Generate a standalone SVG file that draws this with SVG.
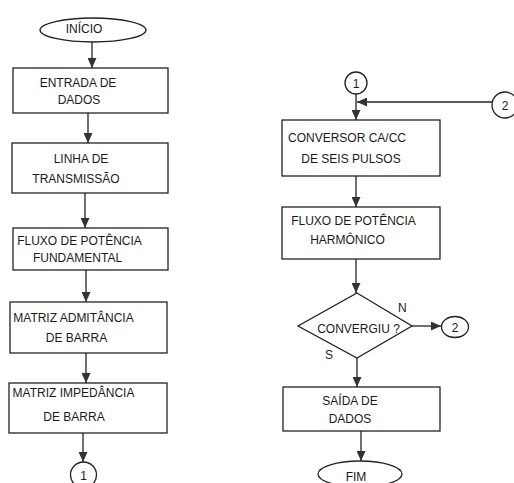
<svg xmlns="http://www.w3.org/2000/svg" width="514" height="483" viewBox="0 0 514 483">
<defs>
<marker id="ah" markerUnits="userSpaceOnUse" markerWidth="10" markerHeight="9" refX="10" refY="4.5" orient="auto">
<path d="M0,0 L10,4.5 L0,9 Z" fill="#333"/>
</marker>
<style>
.s{fill:#fff;stroke:#222;stroke-width:1.3}
.c{fill:none;stroke:#222;stroke-width:1.3}
.t{font-family:"Liberation Sans",Arial,sans-serif;font-size:12px;fill:#1a1a1a}
.m{text-anchor:middle}
</style>
</defs>
<rect width="514" height="483" fill="#fff"/>
<g id="connectors">
<line class="c" x1="92" y1="42" x2="92" y2="68" marker-end="url(#ah)"/>
<line class="c" x1="88" y1="113" x2="88" y2="143" marker-end="url(#ah)"/>
<line class="c" x1="85" y1="193" x2="85" y2="228" marker-end="url(#ah)"/>
<line class="c" x1="86" y1="270" x2="86" y2="302" marker-end="url(#ah)"/>
<line class="c" x1="86" y1="353" x2="86" y2="383" marker-end="url(#ah)"/>
<line class="c" x1="83" y1="433" x2="83" y2="462" marker-end="url(#ah)"/>
<line class="c" x1="356" y1="94" x2="356" y2="120" marker-end="url(#ah)"/>
<line class="c" x1="492" y1="102" x2="357" y2="102" marker-end="url(#ah)"/>
<line class="c" x1="356" y1="176" x2="356" y2="207" marker-end="url(#ah)"/>
<line class="c" x1="356" y1="259" x2="356" y2="293" marker-end="url(#ah)"/>
<line class="c" x1="412" y1="326" x2="441" y2="326" marker-end="url(#ah)"/>
<line class="c" x1="357" y1="358" x2="357" y2="387" marker-end="url(#ah)"/>
<line class="c" x1="361" y1="431" x2="361" y2="461" marker-end="url(#ah)"/>
</g>
<g id="inicio">
<ellipse class="s" cx="93" cy="30" rx="53" ry="12"/>
<text class="t m" x="84" y="33">INÍCIO</text>
</g>
<g id="entrada">
<rect class="s" x="13" y="68" width="155" height="45"/>
<text class="t m" x="78" y="87">ENTRADA DE</text>
<text class="t m" x="79" y="104">DADOS</text>
</g>
<g id="linha">
<rect class="s" x="12" y="143" width="156" height="50"/>
<text class="t m" x="81" y="163">LINHA DE</text>
<text class="t m" x="76" y="183">TRANSMISSÃO</text>
</g>
<g id="fluxo-fund">
<rect class="s" x="13" y="228" width="155" height="42"/>
<text class="t m" x="79.5" y="245">FLUXO DE POTÊNCIA</text>
<text class="t m" x="77.5" y="262">FUNDAMENTAL</text>
</g>
<g id="admitancia">
<rect class="s" x="10" y="302" width="157" height="51"/>
<text class="t m" x="73.5" y="322">MATRIZ ADMITÂNCIA</text>
<text class="t m" x="76.5" y="342">DE BARRA</text>
</g>
<g id="impedancia">
<rect class="s" x="9" y="383" width="158" height="50"/>
<text class="t m" x="73.5" y="397">MATRIZ IMPEDÂNCIA</text>
<text class="t m" x="74" y="421">DE BARRA</text>
</g>
<g id="con1-out">
<circle class="s" cx="83.5" cy="475" r="13"/>
<text class="t m" x="83.5" y="480">1</text>
</g>
<g id="con1-in">
<circle class="s" cx="356" cy="83" r="11"/>
<text class="t m" x="356" y="88">1</text>
</g>
<g id="con2-in">
<circle class="s" cx="505" cy="105" r="13"/>
<text class="t m" x="505" y="110">2</text>
</g>
<g id="conversor">
<rect class="s" x="282" y="120" width="158" height="56"/>
<text class="t m" x="347" y="142">CONVERSOR CA/CC</text>
<text class="t m" x="351" y="163">DE SEIS PULSOS</text>
</g>
<g id="fluxo-harm">
<rect class="s" x="282" y="207" width="158" height="52"/>
<text class="t m" x="353.5" y="225">FLUXO DE POTÊNCIA</text>
<text class="t m" x="347.5" y="244">HARMÔNICO</text>
</g>
<g id="convergiu">
<polygon class="s" points="357,293 412,326 357,358 298,326"/>
<text class="t m" x="358.5" y="333">CONVERGIU ?</text>
<text class="t" x="398" y="312">N</text>
<text class="t" x="325" y="359">S</text>
</g>
<g id="con2-out">
<ellipse class="s" cx="455" cy="327" rx="13.5" ry="10.5"/>
<text class="t m" x="455" y="332">2</text>
</g>
<g id="saida">
<rect class="s" x="283" y="387" width="157" height="44"/>
<text class="t m" x="350" y="405">SAÍDA DE</text>
<text class="t m" x="350" y="423">DADOS</text>
</g>
<g id="fim">
<ellipse class="s" cx="360" cy="474" rx="42" ry="13"/>
<text class="t m" x="356" y="481">FIM</text>
</g>
</svg>
